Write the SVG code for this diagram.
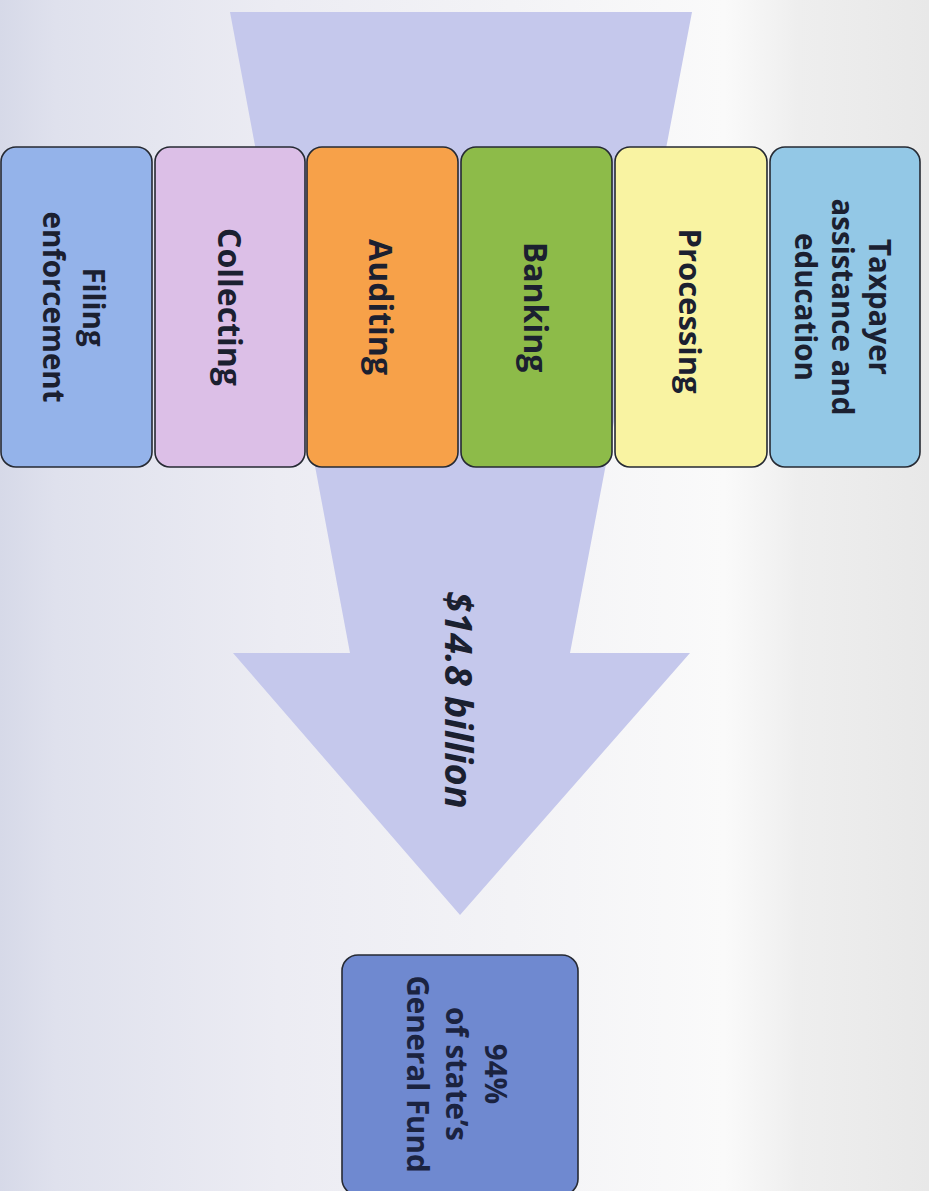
<svg xmlns="http://www.w3.org/2000/svg" width="929" height="1191" viewBox="0 0 929 1191">
<defs>
<linearGradient id="bg" x1="0" y1="0" x2="1" y2="0">
<stop offset="0" stop-color="#d6d9e8"/>
<stop offset="0.06" stop-color="#dfe1ed"/>
<stop offset="0.3" stop-color="#ececf3"/>
<stop offset="0.55" stop-color="#f3f3f6"/>
<stop offset="0.78" stop-color="#fafafa"/>
<stop offset="0.86" stop-color="#eeeeee"/>
<stop offset="1" stop-color="#e8e8e8"/>
</linearGradient>
<style>
.box{stroke:#262a33;stroke-width:1.6}
.lbl{font-family:"Open Sans","Liberation Sans",sans-serif;font-weight:700;font-size:32px;fill:#1b2030;text-anchor:middle}
.sm{font-size:29.5px}
.md{font-size:31px}
.fund{font-family:"Open Sans","Liberation Sans",sans-serif;font-weight:700;font-size:29.5px;fill:#1b2340;text-anchor:middle}
.amt{font-family:"Open Sans","Liberation Sans",sans-serif;font-weight:700;font-style:italic;font-size:38px;fill:#1b2030;text-anchor:middle}
</style>
</defs>
<rect width="929" height="1191" fill="url(#bg)"/>
<g id="connectors">
<path id="flow-arrow" d="M230,12 L692,12 L570,653 L690,653 L460,915 L233,653 L350,653 Z" fill="#c5c8ec"/>
<text class="amt" transform="translate(445,700) rotate(90)">$14.8 billion</text>
</g>
<g id="filing">
<rect class="box" x="1" y="147" width="151" height="320" rx="15" fill="#94b3ea"/>
<text class="lbl sm" transform="translate(83,307) rotate(90)">Filing</text>
<text class="lbl sm" transform="translate(43,307) rotate(90)">enforcement</text>
</g>
<g id="collecting">
<rect class="box" x="155" y="147" width="150" height="320" rx="15" fill="#dcbfe7"/>
<text class="lbl" transform="translate(218,307) rotate(90)">Collecting</text>
</g>
<g id="auditing">
<rect class="box" x="307" y="147" width="151" height="320" rx="15" fill="#f7a149"/>
<text class="lbl" transform="translate(369,307) rotate(90)">Auditing</text>
</g>
<g id="banking">
<rect class="box" x="461" y="147" width="151" height="320" rx="15" fill="#8dbb49"/>
<text class="lbl" transform="translate(524,307) rotate(90)">Banking</text>
</g>
<g id="processing">
<rect class="box" x="615" y="147" width="152" height="320" rx="15" fill="#f9f3a2"/>
<text class="lbl md" transform="translate(679,311) rotate(90)">Processing</text>
</g>
<g id="taxpayer">
<rect class="box" x="770" y="147" width="150" height="320" rx="15" fill="#93c8e6"/>
<text class="lbl sm" transform="translate(869,307) rotate(90)">Taxpayer</text>
<text class="lbl sm" transform="translate(832,307) rotate(90)">assistance and</text>
<text class="lbl sm" transform="translate(795,307) rotate(90)">education</text>
</g>
<g id="general-fund">
<rect class="box" x="342" y="955" width="236" height="240" rx="16" fill="#6f89d0"/>
<text class="fund" transform="translate(485,1074) rotate(90)">94%</text>
<text class="fund" transform="translate(446,1074) rotate(90)">of state’s</text>
<text class="fund" transform="translate(407,1074) rotate(90)">General Fund</text>
</g>
</svg>
